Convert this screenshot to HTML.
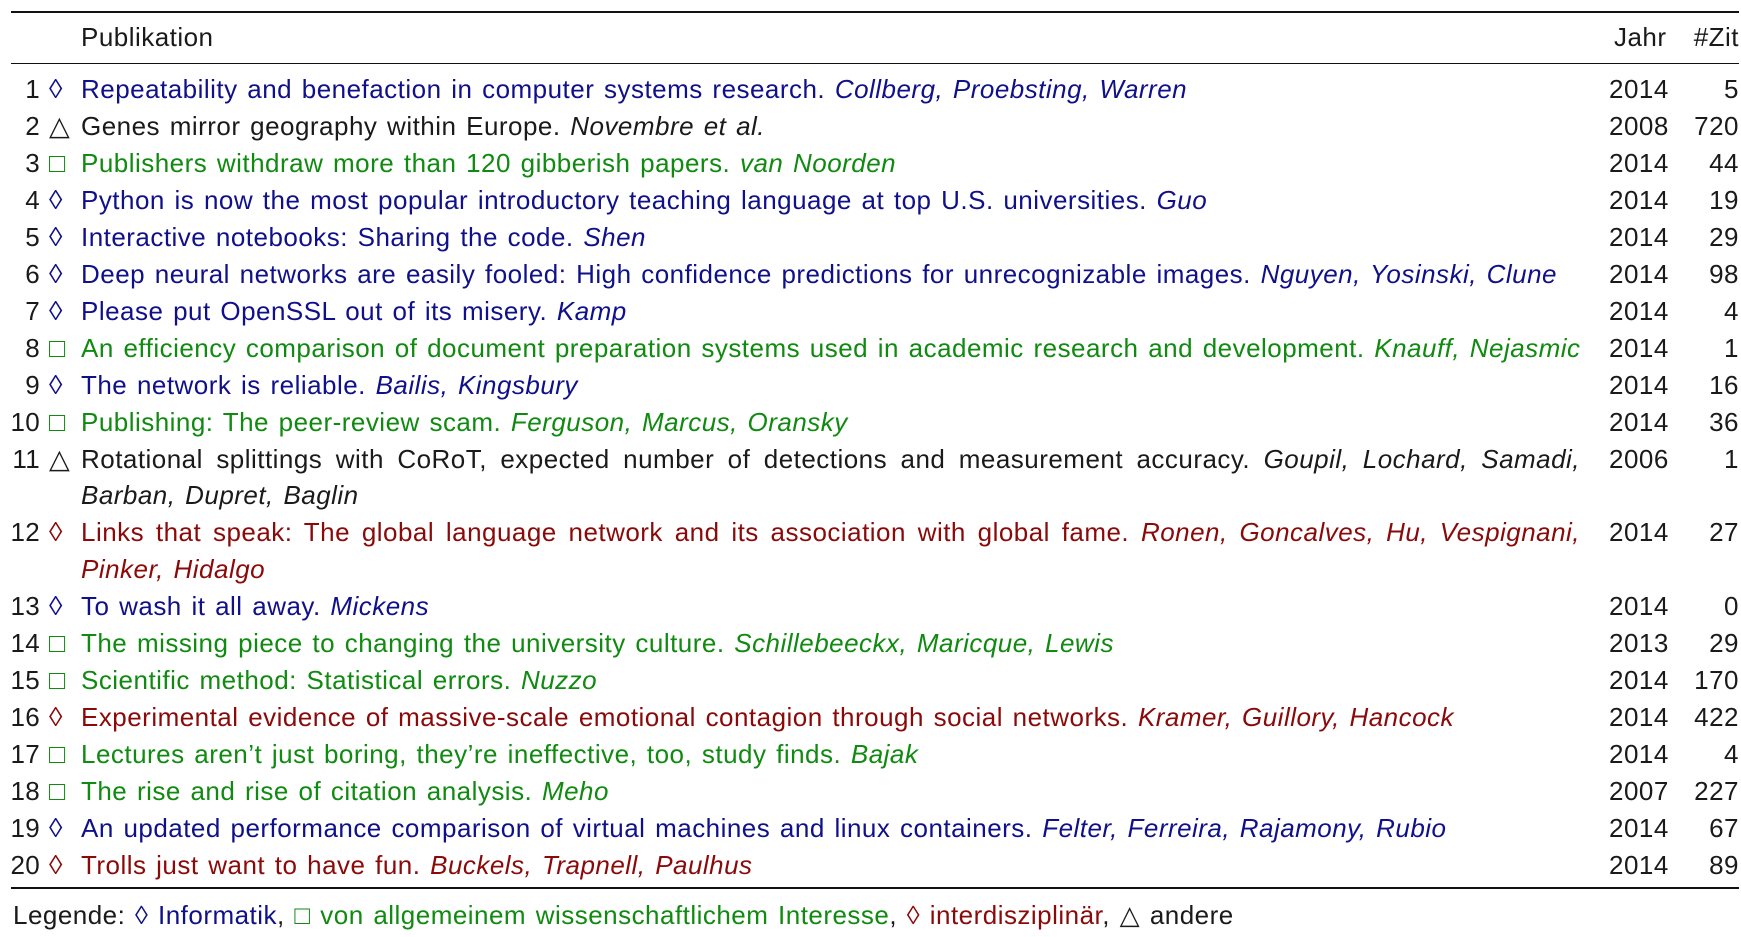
<!DOCTYPE html>
<html><head><meta charset="utf-8"><style>
html,body{margin:0;padding:0;background:#fff;}
body{width:1741px;height:937px;position:relative;overflow:hidden;font-family:"Liberation Sans","DejaVu Sans",sans-serif;font-size:26px;letter-spacing:0.48px;word-spacing:2px;color:#1a1a1a;}
.rule{position:absolute;left:11px;width:1728px;background:#111;}
.l{position:absolute;height:37px;line-height:37px;white-space:nowrap;}
.num{position:absolute;right:1701px;text-align:right;letter-spacing:0.3px;}
.sym{position:absolute;left:49px;width:26px;text-align:left;font-size:27px;}
.txt{position:absolute;left:81px;}
.yr{position:absolute;left:1609px;}
.zit{position:absolute;right:2px;text-align:right;}
.b{color:#10108a;} .g{color:#108a10;} .r{color:#8a0a0a;} .k{color:#1a1a1a;}
i{font-style:italic;}
.just{width:1499px;text-align:justify;text-align-last:justify;}
</style></head><body>
<div class="rule" style="top:11px;height:2px"></div>
<div class="l" style="left:81px;top:19px">Publikation</div>
<div class="l" style="left:1614px;top:19px">Jahr</div>
<div class="l" style="right:2px;top:19px">#Zit</div>
<div class="rule" style="top:63px;height:1px"></div>
<div id="rows"></div>
<div class="rule" style="top:887px;height:2px"></div>
<div class="l" style="left:13px;top:897px">Legende: <span class="b">◊ Informatik</span>, <span class="g">□ von allgemeinem wissenschaftlichem Interesse</span>, <span class="r">◊ interdisziplinär</span>, <span class="k">△ andere</span></div>
<script>
const titles=["Repeatability and benefaction in computer systems research.","Genes mirror geography within Europe.","Publishers withdraw more than 120 gibberish papers.","Python is now the most popular introductory teaching language at top U.S. universities.","Interactive notebooks: Sharing the code.","Deep neural networks are easily fooled: High confidence predictions for unrecognizable images.","Please put OpenSSL out of its misery.","An efficiency comparison of document preparation systems used in academic research and development.","The network is reliable.","Publishing: The peer-review scam.","Rotational splittings with CoRoT, expected number of detections and measurement accuracy.","Links that speak: The global language network and its association with global fame.","To wash it all away.","The missing piece to changing the university culture.","Scientific method: Statistical errors.","Experimental evidence of massive-scale emotional contagion through social networks.","Lectures aren’t just boring, they’re ineffective, too, study finds.","The rise and rise of citation analysis.","An updated performance comparison of virtual machines and linux containers.","Trolls just want to have fun."];
const authors=["Collberg, Proebsting, Warren","Novembre et al.","van Noorden","Guo","Shen","Nguyen, Yosinski, Clune","Kamp","Knauff, Nejasmic","Bailis, Kingsbury","Ferguson, Marcus, Oransky","Goupil, Lochard, Samadi,|Barban, Dupret, Baglin","Ronen, Goncalves, Hu, Vespignani,|Pinker, Hidalgo","Mickens","Schillebeeckx, Maricque, Lewis","Nuzzo","Kramer, Guillory, Hancock","Bajak","Meho","Felter, Ferreira, Rajamony, Rubio","Buckels, Trapnell, Paulhus"];
const cats=["b","k","g","b","b","b","b","g","b","g","k","r","b","g","g","r","g","g","b","r"];
const years=[2014,2008,2014,2014,2014,2014,2014,2014,2014,2014,2006,2014,2014,2013,2014,2014,2014,2007,2014,2014];
const cites=[5,720,44,19,29,98,4,1,16,36,1,27,0,29,170,422,4,227,67,89];
const symbols={b:"◊",g:"□",r:"◊",k:"△"};
const rows=document.getElementById('rows');
let line=0;
const y0=71,lh=36.95;
function mk(cls,top,html){const d=document.createElement('div');d.className='l '+cls;d.style.top=top+'px';d.innerHTML=html;return d;}
for(let i=0;i<titles.length;i++){
  const top=y0+line*lh;
  const c=cats[i];
  const parts=authors[i].split('|');
  const row=document.createElement('div');
  
  
  const n=mk('num',top,String(i+1));
  
  
  const s=mk('sym '+c,top,symbols[c]);
  
  
  const t=mk('txt '+c+(parts.length>1?' just':''),top,titles[i]+' <i>'+parts[0]+'</i>');
  
  
  const yr=mk('yr',top,String(years[i]));
  
  
  const z=mk('zit',top,String(cites[i]));
  
  
  row.append(n,s,t,yr,z);
  if(parts.length>1){
    line++;
    const t2=mk('txt '+c,y0+line*lh,'<i>'+parts[1]+'</i>');
    
    
    row.append(t2);
  }
  rows.append(row);
  line++;
}
</script>
</body></html>
